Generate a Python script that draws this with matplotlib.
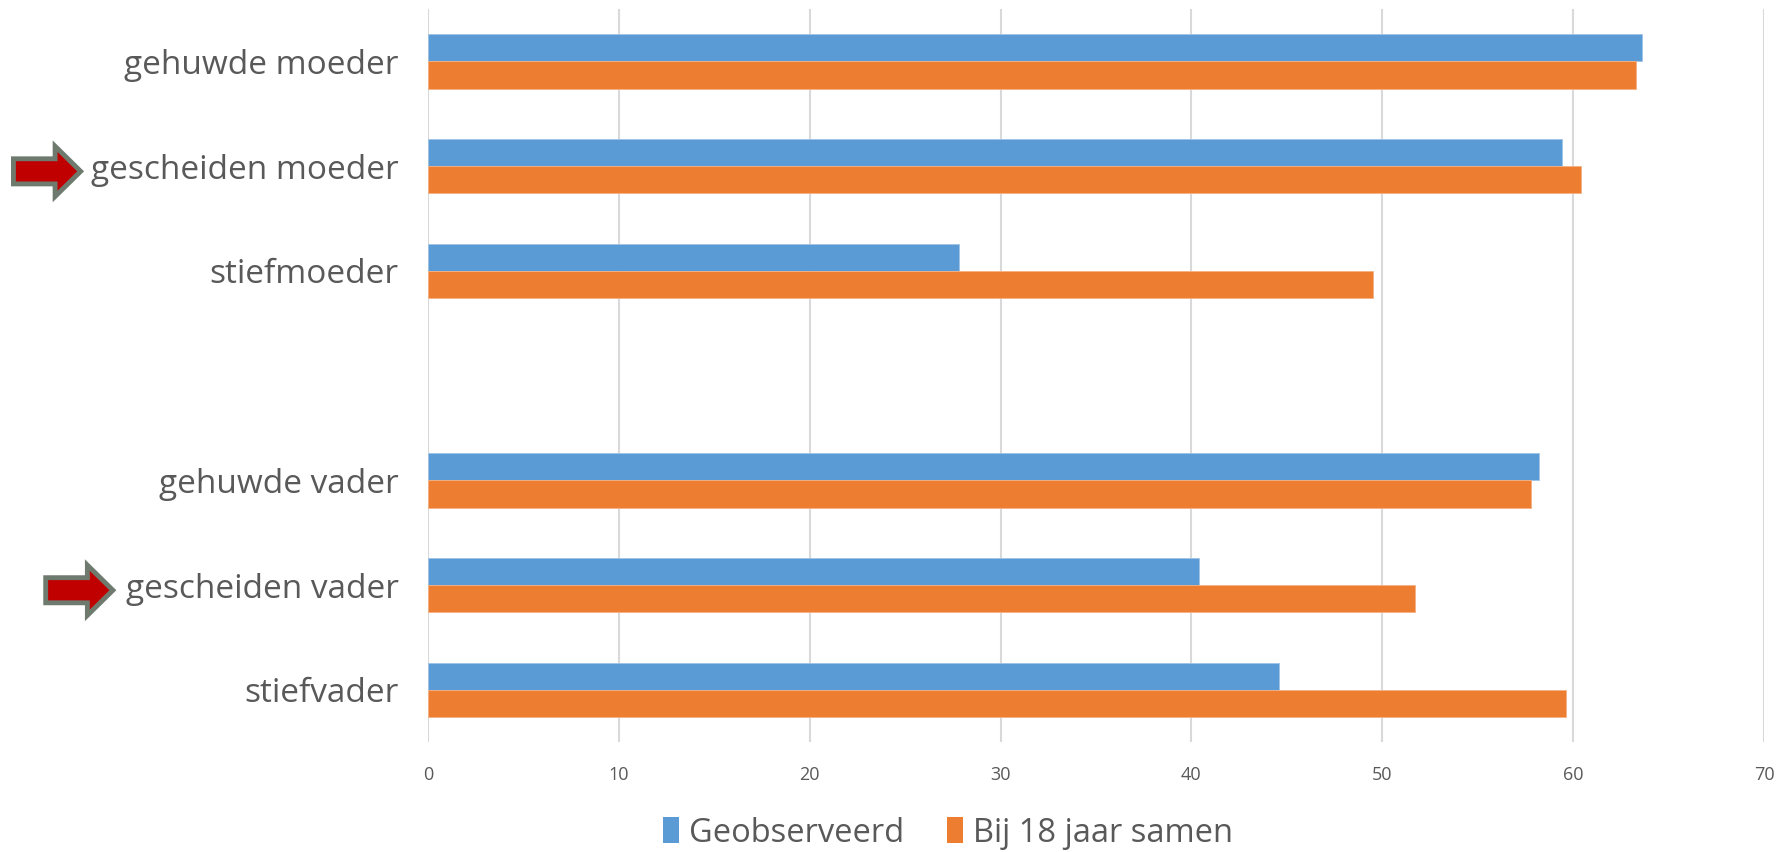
import numpy as np
import matplotlib
matplotlib.use("Agg")
import matplotlib.pyplot as plt
from matplotlib.patches import Polygon, Patch
from matplotlib.transforms import blended_transform_factory

# Data
categories = ['gehuwde moeder', 'gescheiden moeder', 'stiefmoeder', '',
              'gehuwde vader', 'gescheiden vader', 'stiefvader']
geobserveerd = [63.6, 59.4, 27.8, np.nan, 58.2, 40.4, 44.6]
bij18 = [63.3, 60.4, 49.5, np.nan, 57.8, 51.7, 59.6]
arrow_rows = [1, 5]
arrow_x = [0.0075, 0.0255]  # left edge of arrow, figure fraction

plt.rcParams['font.family'] = ['Open Sans', 'DejaVu Sans']
text_col = '#595959'
blue = '#5b9bd5'
orange = '#ed7d31'

fig = plt.figure(figsize=(17.92, 8.52), dpi=100)
ax = fig.add_axes([0.2388, 0.129, 0.7456, 0.8604])

y = np.arange(len(categories))
h = 0.26
ax.barh(y - h / 2, geobserveerd, height=h, color=blue, edgecolor='#9dc3e6', linewidth=0.6, zorder=3)
ax.barh(y + h / 2, bij18, height=h, color=orange, edgecolor='#f4b183', linewidth=0.6, zorder=3)

ax.set_xlim(0, 70)
ax.set_ylim(len(categories) - 0.5, -0.5)
ax.set_xticks(range(0, 71, 10))
ax.set_yticks(y)
ax.set_yticklabels(categories, fontsize=24, color=text_col)
ax.tick_params(axis='y', length=0, pad=21)
ax.tick_params(axis='x', length=0, pad=17, labelsize=13, labelcolor=text_col)
ax.grid(axis='x', color='#d9d9d9', linewidth=1.5, zorder=0)
for s in ax.spines.values():
    s.set_visible(False)

# red arrows pointing at the divorced parents
tr = blended_transform_factory(fig.transFigure, ax.transData)
L = 0.0375
for row, x0 in zip(arrow_rows, arrow_x):
    yc = row + 0.05
    sh, hh = 0.12, 0.24
    xh = x0 + L * 0.62
    pts = [(x0, yc - sh), (xh, yc - sh), (xh, yc - hh), (x0 + L, yc),
           (xh, yc + hh), (xh, yc + sh), (x0, yc + sh)]
    ax.add_patch(Polygon(pts, closed=True, transform=tr, facecolor='#c00000',
                         edgecolor='#6f7a6f', linewidth=3.5, joinstyle='miter',
                         clip_on=False))

handles = [Patch(facecolor=blue), Patch(facecolor=orange)]
leg = fig.legend(handles, ['Geobserveerd', 'Bij 18 jaar samen'], loc='center',
                 bbox_to_anchor=(0.529, 0.022), ncol=2, frameon=False, fontsize=23.5,
                 handlelength=0.5, handleheight=0.85, handletextpad=0.3, columnspacing=1.3)
for t in leg.get_texts():
    t.set_color(text_col)

fig.savefig('out.png', dpi=100, facecolor='white')
